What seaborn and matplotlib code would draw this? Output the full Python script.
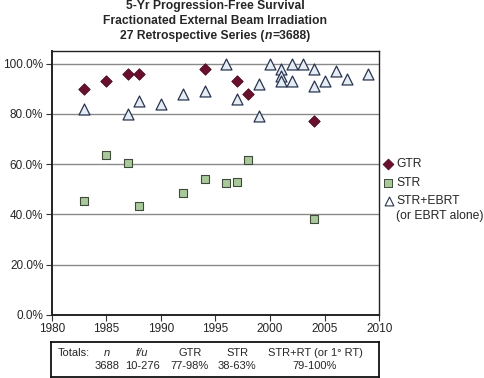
import pandas as pd
import seaborn as sns
import matplotlib.pyplot as plt

# 5-yr PFS by publication year
gtr_year = [1983, 1985, 1987, 1988, 1994, 1997, 1998, 2004]
gtr_pfs = [90, 93, 96, 96, 98, 93, 88, 77]

str_year = [1983, 1985, 1987, 1988, 1992, 1994, 1996, 1997, 1998, 2004]
str_pfs = [45.5, 63.5, 60.5, 43.5, 48.5, 54, 52.5, 53, 61.5, 38]

ebrt_year = [1983, 1987, 1988, 1990, 1992, 1994, 1996, 1997, 1999, 1999, 2000, 2001,
             2001, 2001, 2002, 2002, 2003, 2004, 2004, 2005, 2006, 2007, 2009]
ebrt_pfs = [82, 80, 85, 84, 88, 89, 100, 86, 92, 79, 100, 98,
            95, 93, 100, 93, 100, 98, 91, 93, 97, 94, 96]

yticks = [0, 20, 40, 60, 80, 100]
xticks = [1980, 1985, 1990, 1995, 2000, 2005, 2010]

table_head = ['Totals:', 'n', 'f/u', 'GTR', 'STR', 'STR+RT (or 1° RT)']
table_vals = ['', '3688', '10-276', '77-98%', '38-63%', '79-100%']
table_x = [0.071, 0.172, 0.278, 0.424, 0.568, 0.805]

df = pd.concat([
    pd.DataFrame({'year': gtr_year, 'pfs': gtr_pfs, 'grp': 'GTR'}),
    pd.DataFrame({'year': str_year, 'pfs': str_pfs, 'grp': 'STR'}),
    pd.DataFrame({'year': ebrt_year, 'pfs': ebrt_pfs, 'grp': 'EBRT'}),
])

sns.set_style('white')
plt.rcParams['font.family'] = ['Liberation Sans', 'DejaVu Sans']

fig = plt.figure(figsize=(4.85, 3.78), dpi=100)
ax = fig.add_axes([0.1066, 0.1667, 0.6754, 0.6983])

for y in yticks[1:]:
    ax.axhline(y, color='#8a8a8a', lw=1.0, zorder=0)

styles = {
    'GTR': dict(marker='D', s=34, color='#6a0f2e', edgecolor='#4a0a20', linewidth=0.6),
    'STR': dict(marker='s', s=30, color='#a9c99b', edgecolor='#3f4a3a', linewidth=0.8),
    'EBRT': dict(marker='^', s=62, color='#e6ecf3', edgecolor='#28344f', linewidth=0.9),
}
for g, st in styles.items():
    sns.scatterplot(data=df[df['grp'] == g], x='year', y='pfs', ax=ax,
                    legend=False, zorder=3, **st)

ax.set_xlim(1980, 2010)
ax.set_ylim(0, 105)
ax.set_xticks(xticks)
ax.set_yticks(yticks)
ax.set_yticklabels([f'{v:.1f}%' for v in yticks])
ax.set_xlabel('')
ax.set_ylabel('')
ax.tick_params(axis='both', labelsize=8.5, length=4, width=0.8, color='#333333',
               direction='out', bottom=True, left=True, pad=2)
for sp in ax.spines.values():
    sp.set_color('#222222')
    sp.set_linewidth(1.0)
ax.spines['left'].set_linewidth(1.4)
ax.spines['bottom'].set_linewidth(1.4)

# title, three lines, last one with italic n
cx = 0.444
fig.text(cx, 1 - 6 / 378, '5-Yr Progression-Free Survival', ha='center', va='center',
         fontsize=8.7, fontweight='bold')
fig.text(cx, 1 - 21 / 378, 'Fractionated External Beam Irradiation', ha='center', va='center',
         fontsize=8.7, fontweight='bold')
parts = [('27 Retrospective Series (', 'normal'), ('n', 'italic'), ('=3688)', 'normal')]
fig.canvas.draw()
r = fig.canvas.get_renderer()
tmp = [fig.text(0, 0, s, fontsize=8.7, fontweight='bold', style=st) for s, st in parts]
widths = [t.get_window_extent(r).width / fig.bbox.width for t in tmp]
for t in tmp:
    t.remove()
x0 = cx - sum(widths) / 2
for (s, st), w in zip(parts, widths):
    fig.text(x0, 1 - 36 / 378, s, ha='left', va='center', fontsize=8.7,
             fontweight='bold', style=st)
    x0 += w

# legend outside on the right
ax_leg = fig.add_axes([0, 0, 1, 1], facecolor='none')
ax_leg.set_axis_off()
ax_leg.set_xlim(0, 485)
ax_leg.set_ylim(378, 0)
ax_leg.scatter([388], [164], marker='D', s=30, color='#6a0f2e', edgecolor='#4a0a20', linewidth=0.6)
ax_leg.scatter([388], [183], marker='s', s=26, color='#a9c99b', edgecolor='#3f4a3a', linewidth=0.7)
ax_leg.scatter([389], [201], marker='^', s=40, color='white', edgecolor='#28344f', linewidth=0.8)
ax_leg.text(396, 164, 'GTR', va='center', fontsize=8.7)
ax_leg.text(396, 183, 'STR', va='center', fontsize=8.7)
ax_leg.text(396, 201, 'STR+EBRT', va='center', fontsize=8.7)
ax_leg.text(396, 216, '(or EBRT alone)', va='center', fontsize=8.7)

# totals box
box = fig.add_axes([0.1046, 0.003, 0.677, 0.093])
box.set_xticks([])
box.set_yticks([])
box.set_xlim(0, 1)
box.set_ylim(0, 1)
for sp in box.spines.values():
    sp.set_color('#111111')
    sp.set_linewidth(1.3)
for h, v, x in zip(table_head, table_vals, table_x):
    style = 'italic' if h in ('n', 'f/u') else 'normal'
    box.text(x, 0.68, h, ha='center', va='center', fontsize=8, style=style)
    box.text(x, 0.3, v, ha='center', va='center', fontsize=8)

fig.savefig('out.png', dpi=100)
